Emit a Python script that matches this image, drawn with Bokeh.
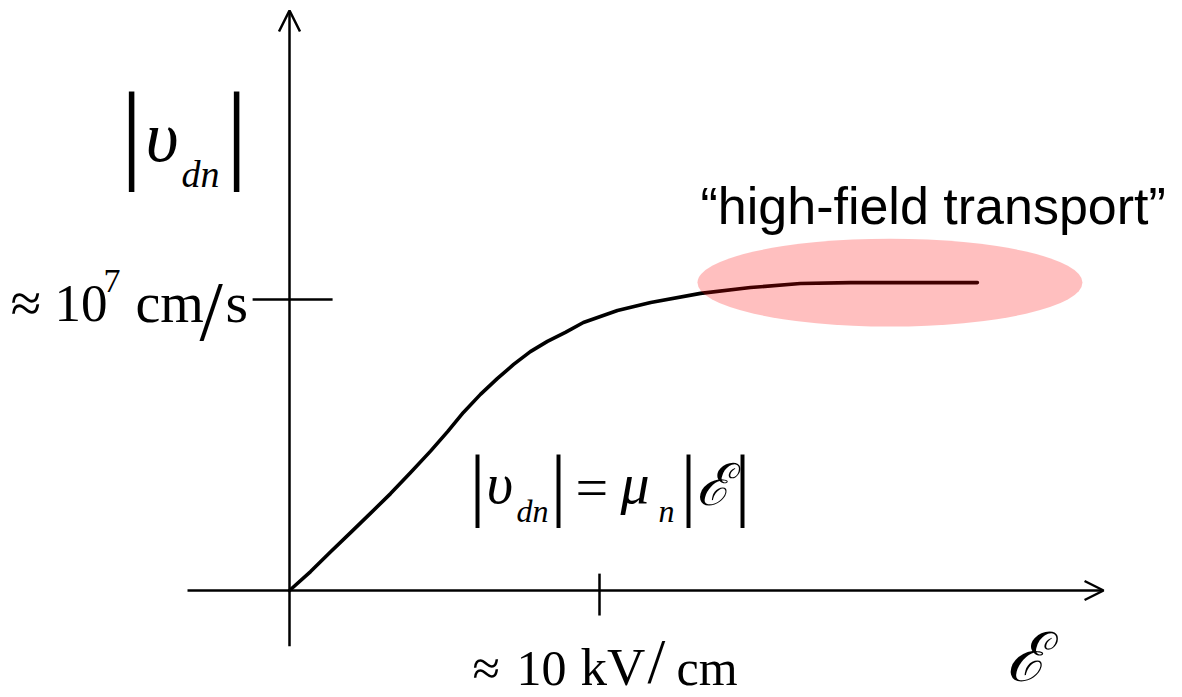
from bokeh.plotting import figure
from bokeh.models import Range1d, Arrow, OpenHead, Label
from bokeh.embed import file_html
from bokeh.resources import INLINE

W, H = 1182, 697

# Electron drift velocity |v_dn| (units of 1e6 cm/s) against field |E| (kV/cm)
field_kv_cm = [0.0, 0.68, 1.32, 1.97, 2.61, 3.26, 3.90, 4.55, 5.10, 5.61, 6.16, 6.71,
               7.23, 7.77, 8.32, 8.90, 9.48, 10.58, 11.65, 13.26, 14.87, 16.48,
               18.10, 19.71, 22.19]
velocity_1e6 = [0.0, 0.65, 1.32, 1.99, 2.65, 3.33, 4.05, 4.79, 5.46, 6.12, 6.74, 7.29,
                7.77, 8.21, 8.56, 8.87, 9.21, 9.62, 9.90, 10.21, 10.41, 10.55,
                10.58, 10.58, 10.58]

# marked values on the two axes
e_tick = 10.0   # kV/cm
v_tick = 10.0   # 1e6 cm/s  (= 1e7 cm/s)

# highlighted saturation region ("high-field transport")
hf_center_e, hf_center_v = 19.37, 10.58
hf_width_e, hf_height_v = 12.42, 3.02

# axis line extents and tick mark extents (data units)
x_axis_from, x_axis_to = -3.29, 26.26
y_axis_from, y_axis_to = -1.92, 19.93
e_tick_span = (-0.86, 0.58)
v_tick_span = (-1.19, 1.39)

# pixels per data unit
SX, SY = 31.0, 29.1

p = figure(width=W, height=H,
           x_range=Range1d(-289 / SX, (W - 289) / SX),
           y_range=Range1d(-(H - 590) / SY, 590 / SY),
           x_axis_type=None, y_axis_type=None,
           output_backend="svg", toolbar_location=None,
           min_border=0, tools="")
p.grid.visible = False
p.outline_line_color = None
p.background_fill_color = "white"
p.border_fill_color = "white"

AXW = 2.5
# axes with open arrow heads
p.add_layout(Arrow(end=OpenHead(size=19, line_width=AXW, line_color="black"),
                   x_start=x_axis_from, y_start=0, x_end=x_axis_to, y_end=0,
                   line_width=AXW, line_color="black"))
p.add_layout(Arrow(end=OpenHead(size=21, line_width=AXW, line_color="black"),
                   x_start=0, y_start=y_axis_from, x_end=0, y_end=y_axis_to,
                   line_width=AXW, line_color="black"))

# tick marks
p.segment(x0=[e_tick], y0=[e_tick_span[0]], x1=[e_tick], y1=[e_tick_span[1]],
          line_width=AXW, line_color="black")
p.segment(x0=[v_tick_span[0]], y0=[v_tick], x1=[v_tick_span[1]], y1=[v_tick],
          line_width=AXW, line_color="black")

# velocity-field curve
p.line(field_kv_cm, velocity_1e6, line_width=3.6, line_color="black",
       line_join="round", line_cap="round")

# translucent highlight over the saturated part
p.ellipse(x=[hf_center_e], y=[hf_center_v], width=[hf_width_e], height=[hf_height_v],
          fill_color="red", fill_alpha=0.25, line_color=None)

SERIF = "Liberation Serif"
SANS = "Liberation Sans"
SCRIPT = "DejaVu Serif"


def lab(text, x, baseline, size, font=SERIF, style="normal", align="left"):
    # Label places the text box slightly above the alphabetic line; compensate
    top = baseline - 0.35 * size
    p.add_layout(Label(x=x, y=H - top, x_units="screen", y_units="screen",
                       text=text, text_font=font, text_font_size=f"{size}px",
                       text_font_style=style, text_align=align,
                       text_baseline="alphabetic", text_color="black"))


# y-axis title |v_dn|
lab("|", 131, 170, 111, align="center")
lab("υ", 145, 162, 72, style="italic")
lab("dn", 181, 187, 38, style="italic")
lab("|", 236, 170, 111, align="center")

# y tick label  ≈ 10^7 cm/s
lab("≈", 10, 322, 56)
lab("10", 54, 322, 53)
lab("7", 103, 292, 34)
lab("cm", 135, 322, 56)
lab("/", 199, 340, 84)
lab("s", 225, 322, 58)

# x tick label  ≈ 10 kV/cm
lab("≈", 472, 685, 50)
lab("10", 516, 685, 50)
lab("kV", 580, 685, 53)
lab("/", 647, 683, 64)
lab("cm", 676, 685, 50)

# x-axis title
lab("ℰ", 1005, 681, 68, font=SCRIPT, style="italic")

# low-field relation |v_dn| = mu_n |E|
lab("|", 477, 511, 80, align="center")
lab("υ", 486, 503, 58, style="italic")
lab("dn", 516, 522, 32, style="italic")
lab("|", 558, 511, 80, align="center")
lab("=", 575, 507, 58)
lab("μ", 620, 503, 58, style="italic")
lab("n", 658, 522, 32, style="italic")
lab("|", 688, 511, 80, align="center")
lab("ℰ", 695, 505, 58, font=SCRIPT, style="italic")
lab("|", 742, 511, 80, align="center")

# region annotation
lab("\u201chigh-field transport\u201d", 700, 224, 52, font=SANS)

open("out.html", "w").write(file_html(p, INLINE))
